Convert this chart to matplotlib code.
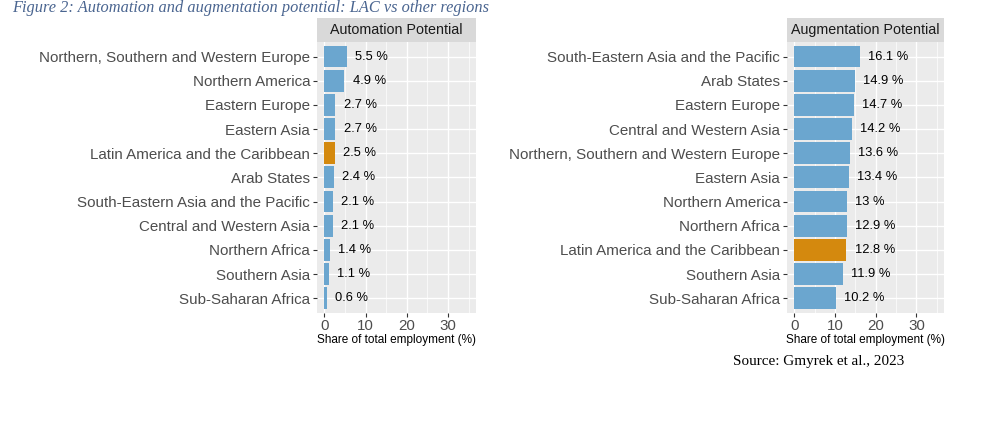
import matplotlib
matplotlib.use("Agg")
import matplotlib.pyplot as plt
from matplotlib.ticker import MultipleLocator

# ---- data ----
auto_regions = ["Northern, Southern and Western Europe", "Northern America", "Eastern Europe",
                "Eastern Asia", "Latin America and the Caribbean", "Arab States",
                "South-Eastern Asia and the Pacific", "Central and Western Asia",
                "Northern Africa", "Southern Asia", "Sub-Saharan Africa"]
auto_values = [5.5, 4.9, 2.7, 2.7, 2.5, 2.4, 2.1, 2.1, 1.4, 1.1, 0.6]
auto_labels = ["5.5 %", "4.9 %", "2.7 %", "2.7 %", "2.5 %", "2.4 %", "2.1 %", "2.1 %",
               "1.4 %", "1.1 %", "0.6 %"]

aug_regions = ["South-Eastern Asia and the Pacific", "Arab States", "Eastern Europe",
               "Central and Western Asia", "Northern, Southern and Western Europe",
               "Eastern Asia", "Northern America", "Northern Africa",
               "Latin America and the Caribbean", "Southern Asia", "Sub-Saharan Africa"]
aug_values = [16.1, 14.9, 14.7, 14.2, 13.6, 13.4, 13.0, 12.9, 12.8, 11.9, 10.2]
aug_labels = ["16.1 %", "14.9 %", "14.7 %", "14.2 %", "13.6 %", "13.4 %", "13 %", "12.9 %",
              "12.8 %", "11.9 %", "10.2 %"]

x_ticks = [0, 10, 20, 30]
highlight = "Latin America and the Caribbean"
panel_titles = ["Automation Potential", "Augmentation Potential"]
x_label = "Share of total employment (%)"
caption = "Figure 2: Automation and augmentation potential: LAC vs other regions"
source = "Source: Gmyrek et al., 2023"

BLUE = "#6BA6CF"
ORANGE = "#D4890E"
BG = "#EBEBEB"
STRIP = "#D9D9D9"

plt.rcParams['font.family'] = ['Liberation Sans', 'DejaVu Sans']

W, H = 1000, 430
fig = plt.figure(figsize=(10, 4.3), dpi=100)

def fx(px):
    return px / W

def fy(py):
    return 1 - py / H

panel_top, panel_bot = 42, 312.7
strip_top = 17.5
panels = [(317, 476), (787, 944)]

def draw(ax_left, ax_right, regions, values, labels, title):
    ax = fig.add_axes([fx(ax_left), fy(panel_bot), fx(ax_right - ax_left),
                       (panel_bot - panel_top) / H])
    ax.set_facecolor(BG)
    n = len(regions)
    ys = list(range(n))[::-1]
    colors = [ORANGE if r == highlight else BLUE for r in regions]
    ax.set_xlim(-1.75, 36.75)
    ax.set_ylim(-0.6, n - 1 + 0.6)
    ax.xaxis.set_major_locator(MultipleLocator(10))
    ax.xaxis.set_minor_locator(MultipleLocator(5))
    ax.grid(True, which='major', color='white', linewidth=1.0)
    ax.grid(True, which='minor', axis='x', color='white', linewidth=0.5)
    ax.set_axisbelow(True)
    ax.barh(ys, values, height=0.9, color=colors, zorder=2)
    for y, v, lab in zip(ys, values, labels):
        ax.annotate(lab, (v, y), xytext=(6, 0), textcoords='offset points',
                    ha='left', va='center', fontsize=9.3, color='black')
    ax.set_yticks(ys)
    ax.set_yticklabels(regions)
    ax.set_xticks(x_ticks)
    ax.tick_params(axis='both', which='major', length=3, width=0.8, color='#333333',
                   labelcolor='#4D4D4D', labelsize=10.9, pad=2)
    ax.tick_params(axis='x', which='minor', length=0)
    ax.tick_params(axis='x', pad=1.5)
    for s in ax.spines.values():
        s.set_visible(False)
    ax.set_xlabel(x_label, fontsize=8.5, color='black', labelpad=1.0)
    # strip
    sax = fig.add_axes([fx(ax_left), fy(panel_top), fx(ax_right - ax_left),
                        (panel_top - strip_top) / H])
    sax.set_facecolor(STRIP)
    sax.set_xticks([])
    sax.set_yticks([])
    for s in sax.spines.values():
        s.set_visible(False)
    sax.text(0.5, 0.48, title, ha='center', va='center', fontsize=10.3,
             color='#1A1A1A', transform=sax.transAxes)

draw(panels[0][0], panels[0][1], auto_regions, auto_values, auto_labels, panel_titles[0])
draw(panels[1][0], panels[1][1], aug_regions, aug_values, aug_labels, panel_titles[1])

fig.text(fx(12), fy(12), caption, family=['Liberation Serif', 'DejaVu Serif'], style='italic',
         fontsize=11.8, color='#4A6590', ha='left', va='baseline')
fig.text(fx(733), fy(365), source, family=['Liberation Serif', 'DejaVu Serif'],
         fontsize=10.9, color='black', ha='left', va='baseline')

fig.savefig("out.png", dpi=100, facecolor='white')
